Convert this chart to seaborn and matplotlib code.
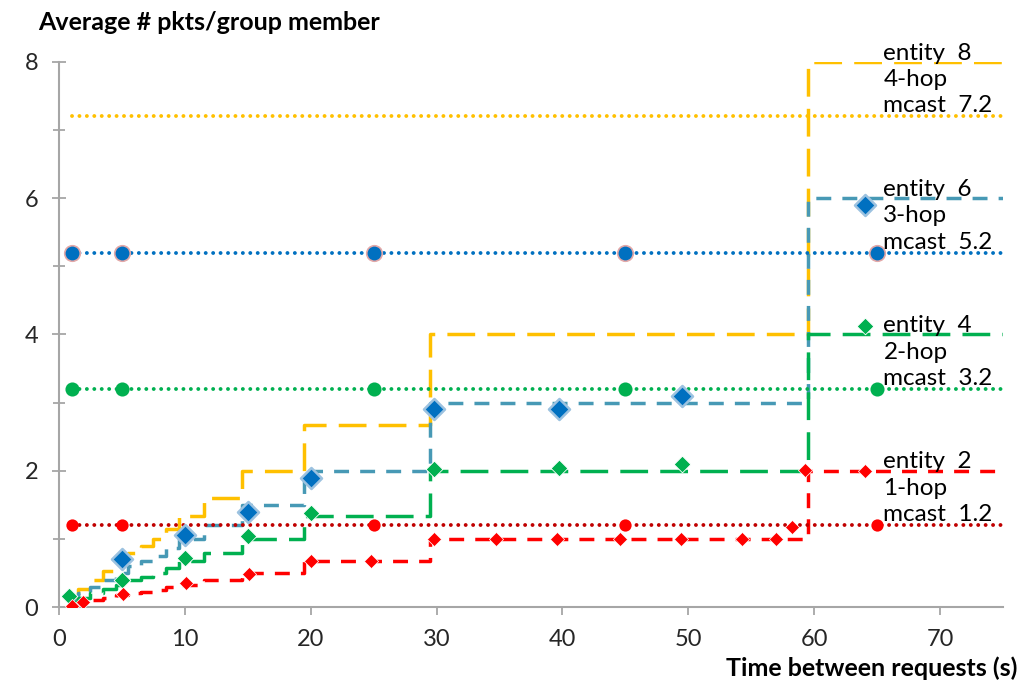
import matplotlib
matplotlib.use("Agg")
import matplotlib.pyplot as plt
from matplotlib.ticker import MultipleLocator
import seaborn as sns
import pandas as pd

# ---- data ----
step_x = [1, 1.5, 2.5, 3.5, 4.5, 5.5, 6.5, 7.5, 8.5, 9.5, 11.5, 14.5, 19.5, 29.5, 59.5, 75]
entity8 = [0.13, 0.27, 0.40, 0.53, 0.67, 0.80, 0.89, 1.00, 1.14, 1.33, 1.60, 2.00, 2.67, 4.00, 8.00, 8.00]
entity6 = [0.10, 0.20, 0.30, 0.40, 0.50, 0.60, 0.67, 0.75, 0.86, 1.00, 1.20, 1.50, 2.00, 3.00, 6.00, 6.00]
entity4 = [0.07, 0.13, 0.20, 0.27, 0.33, 0.40, 0.44, 0.50, 0.57, 0.67, 0.80, 1.00, 1.33, 2.00, 4.00, 4.00]
entity2 = [0.03, 0.07, 0.10, 0.13, 0.17, 0.20, 0.22, 0.25, 0.29, 0.33, 0.40, 0.50, 0.67, 1.00, 2.00, 2.00]

mcast_line_x = [1, 75]
mcast_pts_x = [1, 5, 25, 45, 65]
mcast4 = 7.2
mcast3 = 5.2
mcast2 = 3.2
mcast1 = 1.2

sim3_x = [5, 10, 15, 20, 29.8, 39.7, 49.5, 64]
sim3_y = [0.70, 1.05, 1.40, 1.90, 2.91, 2.91, 3.09, 5.90]
sim2_x = [0.8, 5, 10, 15, 20, 29.8, 39.7, 49.5, 64]
sim2_y = [0.16, 0.40, 0.72, 1.04, 1.38, 2.03, 2.04, 2.10, 4.13]
sim1_x = [1, 1.9, 5.1, 10.1, 15.1, 20, 24.8, 29.8, 34.7, 39.6, 44.6, 49.4, 54.3, 57.0, 58.2, 59.3, 64]
sim1_y = [0.02, 0.08, 0.19, 0.35, 0.49, 0.68, 0.68, 1.00, 1.00, 1.00, 1.00, 1.00, 1.00, 1.00, 1.17, 2.01, 2.00]

labels = [("entity  8\n4-hop\nmcast  7.2", mcast4),
          ("entity  6\n3-hop\nmcast  5.2", mcast3),
          ("entity  4\n2-hop\nmcast  3.2", mcast2),
          ("entity  2\n1-hop\nmcast  1.2", mcast1)]

x_ticks = [0, 10, 20, 30, 40, 50, 60, 70]
y_ticks = [0, 2, 4, 6, 8]

# ---- style ----
sns.set_theme(style="white")
plt.rcParams['font.family'] = ['Lato', 'DejaVu Sans']

YEL = "#FFC000"
TEAL = "#4799B5"
BLUE = "#0070C0"
GRN = "#00B050"
RED = "#FF0000"
DRED = "#C00000"

fig = plt.figure(figsize=(10.24, 6.93), dpi=100)
ax = fig.add_axes([59/1024, 1-607/693, (1003-59)/1024, (607-62)/693])

LW = 2.5
long_dash = (0, (8.0, 3.5))
dash = (0, (4.3, 3.2))
DLW = 2.8
dot = (0, (0.01, 1.9))

steps = pd.DataFrame({"x": step_x, "e8": entity8, "e6": entity6, "e4": entity4, "e2": entity2})
for col, colr, ls in [("e8", YEL, long_dash), ("e6", TEAL, dash), ("e4", GRN, long_dash), ("e2", RED, dash)]:
    sns.lineplot(data=steps, x="x", y=col, ax=ax, color=colr, linewidth=LW, linestyle=ls,
                 drawstyle="steps-post", estimator=None, sort=False, zorder=2,
                 dash_capstyle="butt")

for val, colr in [(mcast4, YEL), (mcast3, BLUE), (mcast2, GRN), (mcast1, DRED)]:
    d = pd.DataFrame({"x": mcast_line_x, "y": [val] * len(mcast_line_x)})
    sns.lineplot(data=d, x="x", y="y", ax=ax, color=colr, linewidth=DLW, linestyle=dot,
                 estimator=None, zorder=2.5, dash_capstyle="round")

for val, fc, ec, s in [(mcast3, BLUE, "#E3A8A8", 125), (mcast2, GRN, GRN, 80), (mcast1, RED, RED, 58)]:
    d = pd.DataFrame({"x": mcast_pts_x, "y": [val] * len(mcast_pts_x)})
    sns.scatterplot(data=d, x="x", y="y", ax=ax, color=fc, edgecolor=ec, linewidth=1.2, s=s,
                    marker="o", zorder=3)

for xs, ys, fc, ec, s, lw in [(sim3_x, sim3_y, BLUE, "#9CC2E0", 115, 1.8),
                              (sim2_x, sim2_y, GRN, "white", 72, 0.6),
                              (sim1_x, sim1_y, RED, "white", 52, 0.5)]:
    d = pd.DataFrame({"x": xs, "y": ys})
    sns.scatterplot(data=d, x="x", y="y", ax=ax, color=fc, edgecolor=ec, linewidth=lw, s=s,
                    marker="D", zorder=4)

for txt, yv in labels:
    ax.text(65.5, yv + 0.0, txt, ha="left", va="bottom", fontsize=17.5, color="black",
            linespacing=1.32, zorder=5)

# ---- axes ----
ax.set_xlim(0, 75)
ax.set_ylim(0, 8)
ax.set_xticks(x_ticks)
ax.set_yticks(y_ticks)
ax.yaxis.set_minor_locator(MultipleLocator(1))
ax.set_xlabel("")
ax.set_ylabel("")
for sp in ["top", "right"]:
    ax.spines[sp].set_visible(False)
for sp in ["left", "bottom"]:
    ax.spines[sp].set_color("#A6A6A6")
    ax.spines[sp].set_linewidth(1.5)
ax.tick_params(axis="y", which="major", direction="inout", length=10, width=1.3,
               color="#A6A6A6", labelsize=17, pad=10, left=True)
ax.tick_params(axis="y", which="minor", direction="inout", length=8, width=1.3,
               color="#A6A6A6", left=True)
ax.tick_params(axis="x", which="major", direction="out", length=6, width=1.3,
               color="#A6A6A6", labelsize=17, pad=10, bottom=True)
ax.grid(False)

fig.text(38/1024, 1-23/693, "Average # pkts/group member", ha="left", va="center",
         fontsize=18, fontweight="bold", color="black")
fig.text(1017/1024, 1-668/693, "Time between requests (s)", ha="right", va="center",
         fontsize=18, fontweight="bold", color="black")

fig.savefig("out.png", dpi=100, facecolor="white")
